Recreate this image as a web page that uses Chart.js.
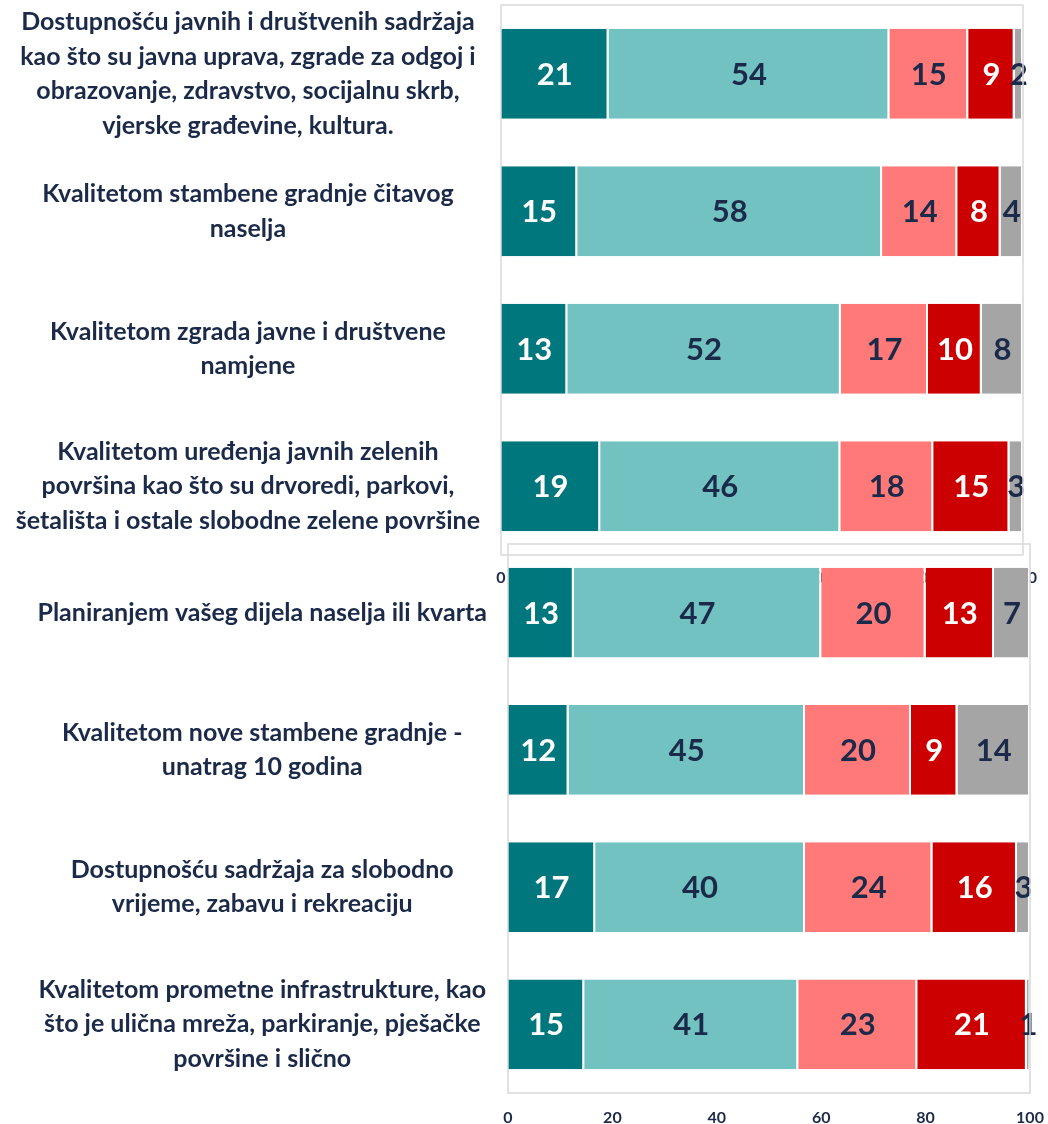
<!DOCTYPE html>
<html>
<head>
<meta charset="utf-8">
<script src="https://cdn.jsdelivr.net/npm/chart.js@4.4.1/dist/chart.umd.min.js"></script>
<style>
  html, body { margin: 0; padding: 0; background: #fff; overflow: hidden; }
  .box { position: absolute; left: 0; width: 1048px; }
  #topBox { top: 0; height: 600px; }
  #bottomBox { top: 539px; height: 590px; }
</style>
</head>
<body>
<div class="box" id="topBox"><canvas id="topChart" width="1048" height="600"></canvas></div>
<div class="box" id="bottomBox"><canvas id="bottomChart" width="1048" height="590"></canvas></div>
<script>
// category labels (already wrapped the way the original shows them)
var categories = [
  ["Dostupnošću javnih i društvenih sadržaja", "kao što su javna uprava, zgrade za odgoj i", "obrazovanje, zdravstvo, socijalnu skrb,", "vjerske građevine, kultura."],
  ["Kvalitetom stambene gradnje čitavog", "naselja"],
  ["Kvalitetom zgrada javne i društvene", "namjene"],
  ["Kvalitetom uređenja javnih zelenih", "površina kao što su drvoredi, parkovi,", "šetališta i ostale slobodne zelene površine"],
  ["Planiranjem vašeg dijela naselja ili kvarta"],
  ["Kvalitetom nove stambene gradnje -", "unatrag 10 godina"],
  ["Dostupnošću sadržaja za slobodno", "vrijeme, zabavu i rekreaciju"],
  ["Kvalitetom prometne infrastrukture, kao", "što je ulična mreža, parkiranje, pješačke", "površine i slično"]
];

var seriesNames = ["Vrlo zadovoljni", "Zadovoljni", "Nezadovoljni", "Vrlo nezadovoljni", "Ne zna"];

// percentages (labels show them rounded)
var vrloZadovoljni   = [20.6, 14.6, 12.7, 19.0, 12.6, 11.6, 16.7, 14.6];
var zadovoljni       = [53.8, 58.4, 52.4, 46.0, 47.4, 45.3, 40.2, 41.0];
var nezadovoljni     = [15.1, 14.4, 16.7, 17.8, 20.0, 20.3, 24.4, 22.8];
var vrloNezadovoljni = [8.9, 8.3, 10.3, 14.6, 13.1, 8.9, 16.2, 21.0];
var neZna            = [1.6, 4.3, 7.9, 2.6, 6.9, 13.9, 2.5, 0.6];

var xTicks = [0, 20, 40, 60, 80, 100];

var colors = ["#00777D", "#72C2C2", "#FF7979", "#CC0000", "#A5A5A5"];
var labelColors = ["#ffffff", "#1c2a4a", "#1c2a4a", "#ffffff", "#1c2a4a"];
var navy = "#1c2a4a";

var allSeries = [vrloZadovoljni, zadovoljni, nezadovoljni, vrloNezadovoljni, neZna];

// draws the rounded value in the middle of each segment
var valueLabels = {
  id: "valueLabels",
  afterDatasetsDraw: function(chart) {
    var ctx = chart.ctx;
    ctx.save();
    ctx.font = "bold 31px Lato";
    ctx.textAlign = "center";
    ctx.textBaseline = "middle";
    chart.data.datasets.forEach(function(ds, i) {
      var meta = chart.getDatasetMeta(i);
      meta.data.forEach(function(bar, j) {
        var p = bar.getProps(["x", "y", "base"], true);
        ctx.fillStyle = labelColors[i];
        ctx.fillText(Math.round(ds.data[j]), (p.x + p.base) / 2, p.y + 1);
      });
    });
    ctx.restore();
  }
};

// grey frame around the plot area
var plotFrame = {
  id: "plotFrame",
  afterDraw: function(chart) {
    var a = chart.chartArea;
    var ctx = chart.ctx;
    ctx.save();
    ctx.strokeStyle = "#D9D9D9";
    ctx.lineWidth = 1.5;
    ctx.strokeRect(a.left, a.top, a.right - a.left, a.bottom - a.top);
    ctx.restore();
  }
};

function makeChart(id, from, to, axisWidth, axisHeight, rightPad, tickPad) {
  var datasets = allSeries.map(function(values, i) {
    return {
      label: seriesNames[i],
      data: values.slice(from, to),
      backgroundColor: colors[i],
      borderColor: "#ffffff",
      borderWidth: { left: 0, right: 2, top: 0, bottom: 0 },
      borderSkipped: false,
      barPercentage: 0.655,
      categoryPercentage: 1
    };
  });

  return new Chart(document.getElementById(id).getContext("2d"), {
    type: "bar",
    data: { labels: categories.slice(from, to), datasets: datasets },
    options: {
      indexAxis: "y",
      responsive: false,
      animation: false,
      layout: { padding: { top: 5, right: rightPad, left: 0, bottom: 0 } },
      plugins: { legend: { display: false }, tooltip: { enabled: false } },
      scales: {
        x: {
          stacked: true,
          min: 0,
          max: 100,
          afterBuildTicks: function(scale) {
            scale.ticks = xTicks.map(function(v) { return { value: v }; });
          },
          afterFit: function(scale) {
            scale.height = axisHeight;
            scale.paddingLeft = 0;
            scale.paddingRight = 0;
          },
          grid: { display: false, drawTicks: false },
          border: { display: false },
          ticks: { padding: tickPad, color: navy, font: { family: "Lato", size: 16, weight: "bold" } }
        },
        y: {
          stacked: true,
          afterFit: function(scale) {
            scale.width = axisWidth;
            scale.paddingTop = 0;
            scale.paddingBottom = 0;
          },
          grid: { display: false, drawTicks: false },
          border: { display: false },
          ticks: {
            autoSkip: false,
            crossAlign: "center",
            padding: 21,
            color: navy,
            font: { family: "Lato", size: 25, weight: "bold", lineHeight: "34.5px" }
          }
        }
      }
    },
    plugins: [valueLabels, plotFrame]
  });
}

window.onload = function() {
  window.topChart = makeChart("topChart", 0, 4, 501, 45, 25, 13);
  window.bottomChart = makeChart("bottomChart", 4, 8, 508, 36, 18, 15);
};
</script>
</body>
</html>
